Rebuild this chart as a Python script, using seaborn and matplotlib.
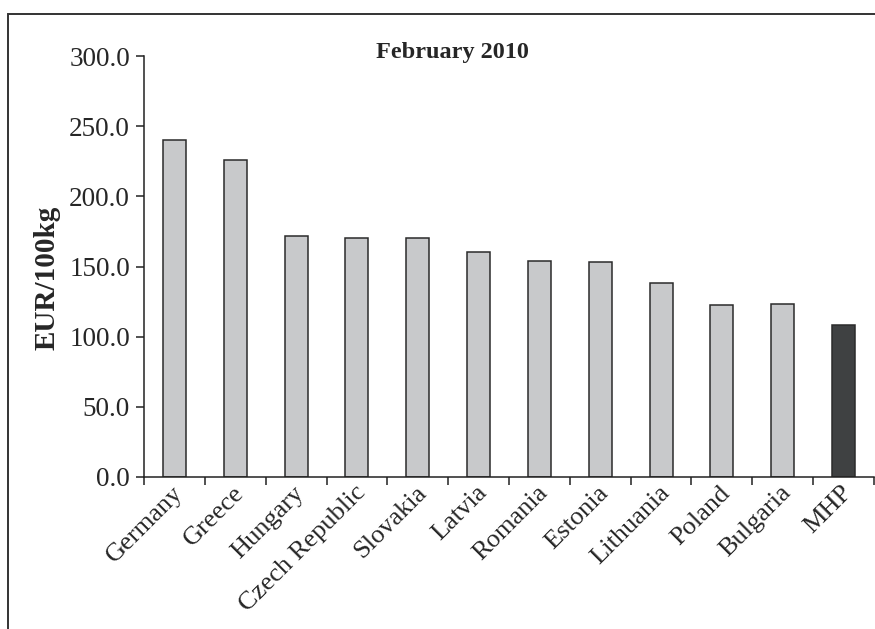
import matplotlib
matplotlib.use("Agg")
import matplotlib.pyplot as plt
import matplotlib.transforms as mtransforms
from matplotlib.patches import Rectangle
from matplotlib.ticker import FixedLocator, FormatStrFormatter
import seaborn as sns
import pandas as pd

countries = ["Germany", "Greece", "Hungary", "Czech Republic", "Slovakia", "Latvia",
             "Romania", "Estonia", "Lithuania", "Poland", "Bulgaria", "MHP"]
prices = [240.0, 226.0, 172.0, 170.0, 170.5, 160.0, 154.0, 153.0, 138.0, 122.5, 123.0, 108.5]
bar_colors = ["#c8c9cb"] * 11 + ["#3f4142"]
title = "February 2010"
ylabel = "EUR/100kg"
yticks = [0, 50, 100, 150, 200, 250, 300]

df = pd.DataFrame({"country": countries, "price": prices})

sns.set_style("white")
plt.rcParams["font.family"] = ["Liberation Serif", "DejaVu Serif"]

fig = plt.figure(figsize=(8.75, 6.29), dpi=100)
ax = fig.add_axes([144 / 875, 1 - 477 / 629, (874 - 144) / 875, (477 - 56) / 629])

sns.barplot(data=df, x="country", y="price", hue="country", palette=bar_colors,
            legend=False, width=0.38, edgecolor="#2b2b2b", linewidth=1.1, ax=ax,
            saturation=1)

ax.set_ylim(0, 300)
ax.set_xlim(-0.5, len(countries) - 0.5)
ax.set_yticks(yticks)
ax.yaxis.set_major_formatter(FormatStrFormatter("%.1f"))
ax.set_xlabel("")
ax.set_ylabel("")

for s in ["top", "right"]:
    ax.spines[s].set_visible(False)
for s in ["left", "bottom"]:
    ax.spines[s].set_color("#222222")
    ax.spines[s].set_linewidth(1.1)

ax.tick_params(axis="y", which="major", direction="out", length=6, width=1.1,
               color="#222222", labelsize=19.5, pad=4, left=True)
ax.xaxis.set_minor_locator(FixedLocator([i - 0.5 for i in range(len(countries) + 1)]))
ax.tick_params(axis="x", which="minor", direction="out", length=6, width=1.1,
               color="#222222", bottom=True)
ax.tick_params(axis="x", which="major", length=0, labelsize=19, pad=9)
shift = mtransforms.ScaledTranslation(5 / 100, 0, fig.dpi_scale_trans)
for lab in ax.get_xticklabels():
    lab.set_rotation(45)
    lab.set_ha("right")
    lab.set_va("center")
    lab.set_rotation_mode("anchor")
    lab.set_transform(lab.get_transform() + shift)

ax.text(0.423, 0.995, title, transform=ax.transAxes, ha="center", va="baseline",
        fontsize=17.5, fontweight="bold")
fig.text(47 / 875, 1 - 278 / 629, ylabel, rotation=90, ha="center", va="center",
         fontsize=21, fontweight="bold")

frame = Rectangle((8 / 875, -0.1), 1.2, 1.1 - 14 / 629, transform=fig.transFigure,
                  fill=False, edgecolor="#333333", linewidth=1.4, clip_on=False)
fig.patches.append(frame)

fig.savefig("out.png", dpi=100)
